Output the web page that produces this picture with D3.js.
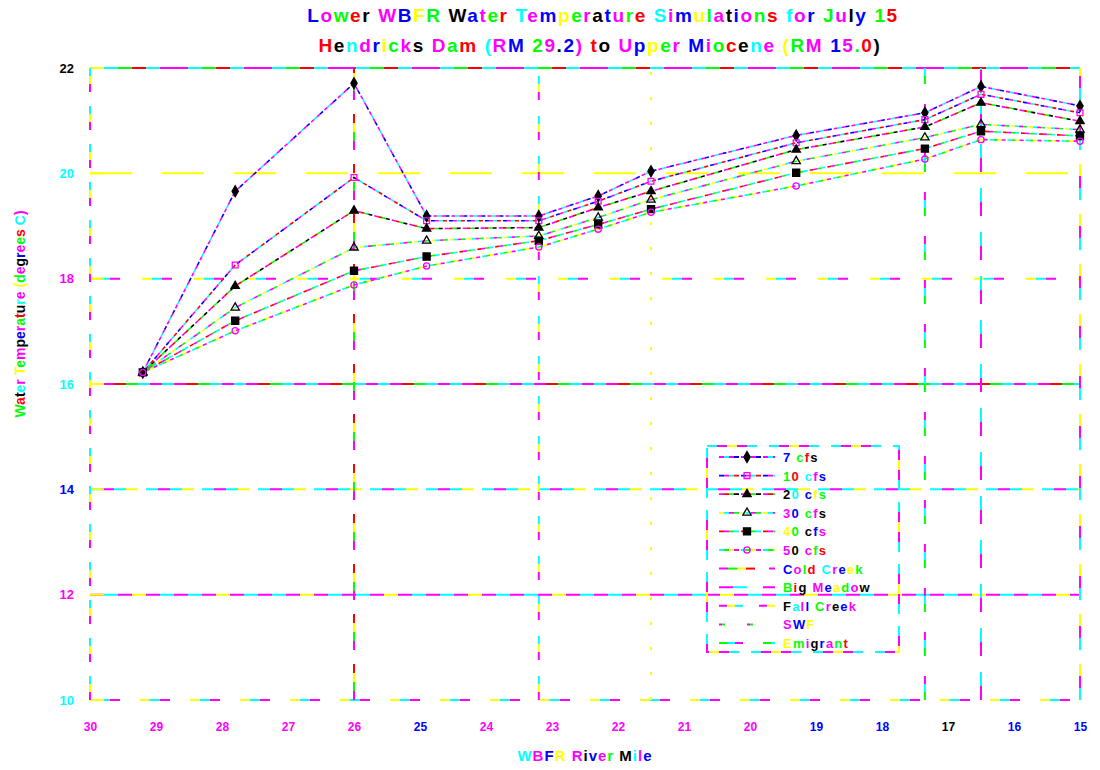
<!DOCTYPE html>
<html>
<head>
<meta charset="utf-8">
<script src="https://cdn.jsdelivr.net/npm/d3@7"></script>
<style>
  body { margin: 0; background: #fff; }
  svg { font-family: "Liberation Sans", Arial, sans-serif; font-weight: bold; }
</style>
</head>
<body>
<div id="chart"></div>
<script>
// river miles of the model nodes
var riverMile = [29.2, 27.8, 26.0, 24.9, 23.2, 22.3, 21.5, 19.3, 17.35, 16.5, 15.0];

// simulated temperatures (deg C) per release flow
var cfs7  = [16.22, 19.66, 21.71, 19.19, 19.19, 19.57, 20.04, 20.72, 21.15, 21.65, 21.28];
var cfs10 = [16.22, 18.26, 19.92, 19.10, 19.10, 19.47, 19.85, 20.58, 21.02, 21.50, 21.15];
var cfs20 = [16.22, 17.86, 19.29, 18.95, 18.97, 19.35, 19.66, 20.45, 20.88, 21.34, 20.99];
var cfs30 = [16.22, 17.45, 18.59, 18.72, 18.81, 19.16, 19.50, 20.23, 20.68, 20.93, 20.83];
var cfs40 = [16.22, 17.20, 18.15, 18.42, 18.72, 19.03, 19.32, 20.01, 20.47, 20.80, 20.71];
var cfs50 = [16.22, 17.01, 17.88, 18.24, 18.60, 18.94, 19.26, 19.76, 20.27, 20.64, 20.61];
var flowNames = ["7 cfs", "10 cfs", "20 cfs", "30 cfs", "40 cfs", "50 cfs"];

// tributary confluences (vertical marker lines)
var tribNames = ["Cold Creek", "Big Meadow", "Fall Creek", "SWF", "Emigrant"];
var tribMile  = [26.0, 16.5, 23.2, 21.5, 17.35];

var xTicks = [30, 29, 28, 27, 26, 25, 24, 23, 22, 21, 20, 19, 18, 17, 16, 15];
var yTicks = [10, 12, 14, 16, 18, 20, 22];

var width = 1100, height = 770;
var margin = {top: 68, right: 20, bottom: 70, left: 90};

var svg = d3.select("#chart").append("svg")
    .attr("width", width)
    .attr("height", height);

var x = d3.scaleLinear().domain([30, 15]).range([margin.left, 1080]);
var y = d3.scaleLinear().domain([10, 22]).range([700, margin.top]);

var M = "#ff00ff", C = "#00ffff", Y = "#ffff00", G = "#00ff00", R = "#ff0000", B = "#0000ff", K = "#000000";

// draw one path as overlapping coloured dash runs, like the reference
function colourLine(g, d, colours, seg, gap, w) {
  var n = colours.length;
  var period = seg * n + gap;
  colours.forEach(function(c, k) {
    g.append("path")
      .attr("d", d)
      .attr("fill", "none")
      .attr("stroke", c)
      .attr("stroke-width", w || 1.5)
      .attr("stroke-dasharray", seg + "," + (period - seg))
      .attr("stroke-dashoffset", -k * seg);
  });
}

// text with cycling letter colours
var textColours = [B, M, G, R, K, C, M, B, Y, G, M, K];
function colourText(t, str, shift) {
  str.split("").forEach(function(ch, i) {
    t.append("tspan").attr("fill", textColours[(i + (shift || 0)) % textColours.length]).text(ch);
  });
}

var grid = svg.append("g");

// horizontal gridlines
var gridStyle = {
  22: {c: [M, C, G, R, C, M], seg: 14, gap: 0},
  20: {c: [Y, Y, Y], seg: 14, gap: 30},
  18: {c: [Y, C, M], seg: 10, gap: 22},
  16: {c: [C, M, R, G, C, M], seg: 12, gap: 0},
  14: {c: [C, M, C, Y], seg: 12, gap: 8},
  12: {c: [M, C, M, Y, M, C], seg: 14, gap: 0},
  10: {c: [Y, C, M], seg: 10, gap: 20}
};
yTicks.forEach(function(t) {
  var s = gridStyle[t];
  colourLine(grid, d3.line()([[x(30), y(t)], [x(15), y(t)]]), s.c, s.seg, s.gap, 2);
  grid.append("line")
    .attr("x1", x(30)).attr("x2", x(30) + 14)
    .attr("y1", y(t)).attr("y2", y(t))
    .attr("stroke", Y).attr("stroke-width", 2);
});

// left and right frame
colourLine(grid, d3.line()([[x(30), y(10)], [x(30), y(22)]]), [M, Y, C], 8, 14, 2);
colourLine(grid, d3.line()([[x(15), y(10)], [x(15), y(22)]]), [C, M, Y], 12, 14, 2);

// tributary lines
var tribStyle = [
  {c: [M, G, Y, R], seg: 9, gap: 14},
  {c: [M, C], seg: 14, gap: 16},
  {c: [M, Y, C], seg: 8, gap: 16},
  {c: [Y], seg: 3, gap: 22},
  {c: [G, C, M], seg: 8, gap: 20}
];
tribMile.forEach(function(m, i) {
  var s = tribStyle[i];
  colourLine(grid, d3.line()([[x(m), y(10)], [x(m), y(22)]]), s.c, s.seg, s.gap, 2);
});

// flow series
var series = [cfs7, cfs10, cfs20, cfs30, cfs40, cfs50];
var lineColours = [
  [M, C, M, B], [B, M, C, R], [M, R, G, K], [Y, C, M, G], [R, M, G, C], [C, G, Y, M]
];
var symbols = [d3.symbolDiamond, d3.symbolSquare, d3.symbolTriangle, d3.symbolTriangle, d3.symbolSquare, d3.symbolCircle];
var symFill = [K, "none", K, "none", K, "none"];
var symStroke = [K, M, K, K, K, M];
var symSize = [34, 34, 30, 30, 50, 30];

var valueline = d3.line()
    .x(function(d, i) { return x(riverMile[i]); })
    .y(function(d) { return y(d); });

var plot = svg.append("g");
series.forEach(function(data, s) {
  colourLine(plot, valueline(data), lineColours[s], 4, 2, 1.6);
});
series.forEach(function(data, s) {
  plot.selectAll(null)
    .data(data)
    .enter().append("path")
      .attr("transform", function(d, i) { return "translate(" + x(riverMile[i]) + "," + y(d) + ")"; })
      .attr("d", d3.symbol().type(symbols[s]).size(symSize[s]))
      .attr("fill", symFill[s])
      .attr("stroke", symStroke[s])
      .attr("stroke-width", 1.3);
});

// axes labels
var xAxis = svg.append("g")
    .attr("transform", "translate(0,719)")
    .call(d3.axisBottom(x).tickValues(xTicks).tickSize(0).tickFormat(d3.format("d")));
xAxis.select(".domain").remove();
xAxis.selectAll("text")
    .attr("font-size", 12).attr("font-weight", "bold")
    .attr("font-family", "Liberation Sans, Arial, sans-serif")
    .attr("fill", function(d, i) { return [M, M, M, M, M, B, M, M, M, M, M, B, B, K, B, B][i]; });

var yAxis = svg.append("g")
    .attr("transform", "translate(77,0)")
    .call(d3.axisLeft(y).tickValues(yTicks).tickSize(0));
yAxis.select(".domain").remove();
yAxis.selectAll("text")
    .attr("font-size", 13).attr("font-weight", "bold")
    .attr("font-family", "Liberation Sans, Arial, sans-serif")
    .attr("fill", function(d, i) { return [C, M, B, C, M, C, K][i]; });

// title
var t1 = svg.append("text").attr("x", 603).attr("y", 22).attr("text-anchor", "middle")
    .attr("font-size", 19).attr("letter-spacing", 1.6);
colourText(t1, "Lower WBFR Water Temperature Simulations for July 15", 0);
var t2 = svg.append("text").attr("x", 600).attr("y", 52).attr("text-anchor", "middle")
    .attr("font-size", 19).attr("letter-spacing", 1.6);
colourText(t2, "Hendricks Dam (RM 29.2) to Upper Miocene (RM 15.0)", 3);

var xl = svg.append("text").attr("x", 585).attr("y", 761).attr("text-anchor", "middle")
    .attr("font-size", 15).attr("letter-spacing", 1);
colourText(xl, "WBFR River Mile", 5);

var yl = svg.append("text")
    .attr("transform", "translate(25,314) rotate(-90)")
    .attr("text-anchor", "middle").attr("font-size", 14);
colourText(yl, "Water Temperature (degrees C)", 2);

// legend
var lg = svg.append("g").attr("transform", "translate(707,446)");
colourLine(lg, "M0,0H192V206H0Z", [C, M, Y, M, C], 10, 12, 2);

var legendNames = flowNames.concat(tribNames);
legendNames.forEach(function(name, i) {
  var row = lg.append("g").attr("transform", "translate(0," + (11 + i * 18.6) + ")");
  if (i < 6) {
    colourLine(row, "M12,0H68", lineColours[i], 5, 2, 1.8);
    row.append("path")
      .attr("transform", "translate(40,0)")
      .attr("d", d3.symbol().type(symbols[i]).size(symSize[i]))
      .attr("fill", symFill[i]).attr("stroke", symStroke[i]).attr("stroke-width", 1.3);
  } else {
    var s = tribStyle[i - 6];
    colourLine(row, "M12,0H68", s.c.length > 1 ? s.c : [M, G], s.seg, s.gap, 2);
  }
  var t = row.append("text").attr("x", 76).attr("y", 5).attr("font-size", 13).attr("letter-spacing", 1.2);
  colourText(t, name, i * 2);
});
</script>
</body>
</html>
